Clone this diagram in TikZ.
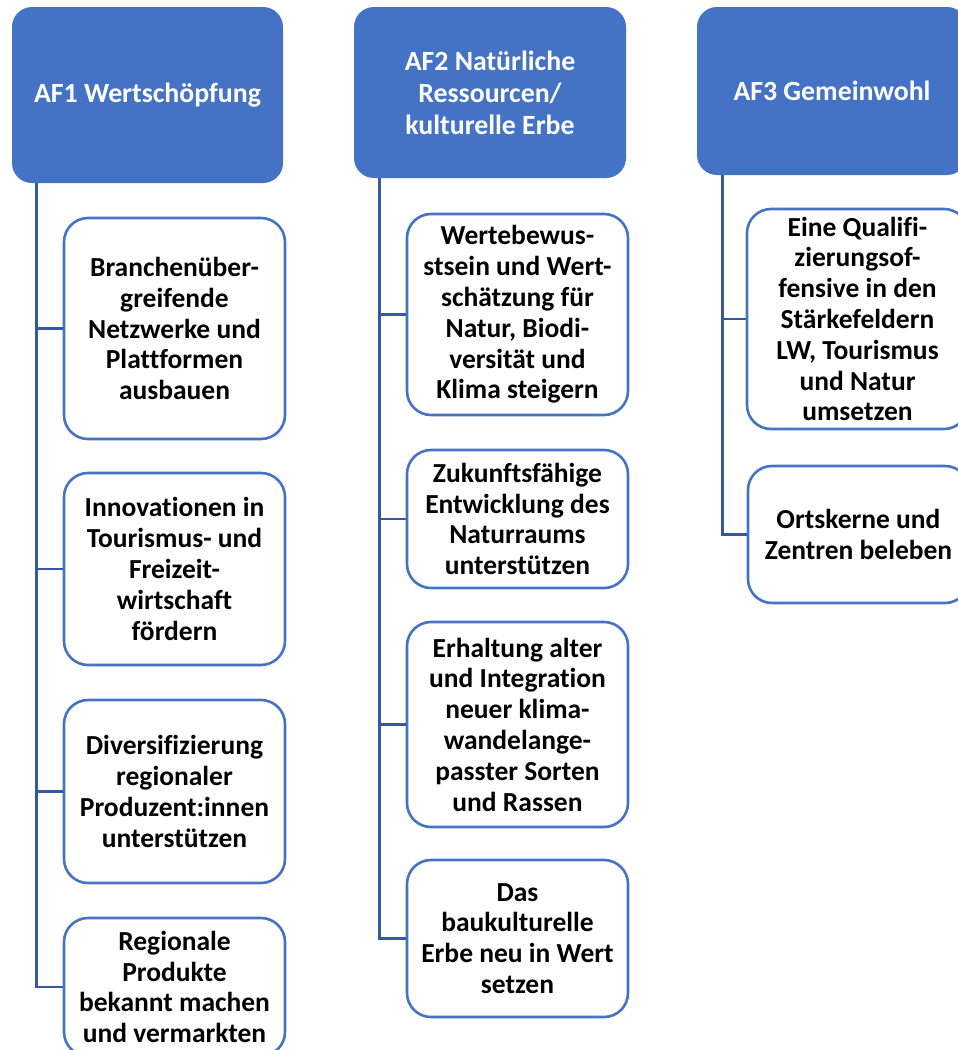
\documentclass[tikz,border=0pt]{standalone}
\usepackage{fontspec}
\setmainfont{Carlito}[Ligatures=NoCommon]
\definecolor{hdr}{HTML}{4472C4}
\definecolor{conn}{HTML}{3458A4}
\begin{document}
\begin{tikzpicture}[x=1pt,y=-1pt,
  hdrbox/.style={rectangle, rounded corners=20pt, fill=hdr, draw=none, text=white,
    font=\fontsize{27.8}{32}\selectfont\bfseries, align=center, inner sep=0pt},
  kidbox/.style={rectangle, rounded corners=24pt, draw=hdr, line width=2.6pt, fill=white,
    font=\fontsize{27.5}{30.8}\selectfont\bfseries, align=center, inner sep=0pt,
    minimum width=221pt},
  link/.style={draw=conn, line width=2.8pt}]
\useasboundingbox (0,0) rectangle (958,1050);
\clip (0,0) rectangle (958,1050);

% headers
\node[hdrbox, minimum width=271pt, minimum height=176pt] (h1) at (147.5,95) {AF1 Wertschöpfung};
\node[hdrbox, minimum width=272pt, minimum height=171pt] (h2) at (490,92.5) {AF2 Natürliche\\Ressourcen/\\kulturelle Erbe};
\node[hdrbox, minimum width=270pt, minimum height=168pt] (h3) at (832,91) {AF3 Gemeinwohl};

% AF1 children
\node[kidbox, minimum height=221pt] (a1) at (174.5,328.5) {Branchenüber-\\greifende\\Netzwerke und\\Plattformen\\ausbauen};
\node[kidbox, minimum height=192pt] (a2) at (174.5,569) {Innovationen in\\Tourismus- und\\Freizeit-\\wirtschaft\\fördern};
\node[kidbox, minimum height=183pt] (a3) at (174.5,791.5) {Diversifizierung\\regionaler\\Produzent:innen\\unterstützen};
\node[kidbox, minimum height=138pt] (a4) at (174.5,987) {Regionale\\Produkte\\bekannt machen\\und vermarkten};

% AF2 children
\node[kidbox, minimum height=201pt] (b1) at (517.5,314.5) {Wertebewus-\\stsein und Wert-\\schätzung für\\Natur, Biodi-\\versität und\\Klima steigern};
\node[kidbox, minimum height=138pt] (b2) at (517.5,519) {Zukunftsfähige\\Entwicklung des\\Naturraums\\unterstützen};
\node[kidbox, minimum height=205pt] (b3) at (517.5,724.5) {Erhaltung alter\\und Integration\\neuer klima-\\wandelange-\\passter Sorten\\und Rassen};
\node[kidbox, minimum height=157pt] (b4) at (517.5,938.5) {Das\\baukulturelle\\Erbe neu in Wert\\setzen};

% AF3 children
\node[kidbox, minimum height=220pt] (c1) at (857.5,319) {Eine Qualifi-\\zierungsof-\\fensive in den\\Stärkefeldern\\LW, Tourismus\\und Natur\\umsetzen};
\node[kidbox, minimum height=137pt] (c2) at (858.5,534.5) {Ortskerne und\\Zentren beleben};

% trunk coordinates
\coordinate (t1) at ([xshift=25pt]h1.south west);
\coordinate (t2) at ([xshift=26pt]h2.south west);
\coordinate (t3) at ([xshift=26pt]h3.south west);

% connectors
\draw[link] (t1) |- (a4.west);
\foreach \k in {a1,a2,a3} \draw[link] (\k.west) -- (\k.west -| t1);
\draw[link] (t2) |- (b4.west);
\foreach \k in {b1,b2,b3} \draw[link] (\k.west) -- (\k.west -| t2);
\draw[link] (t3) |- (c2.west);
\draw[link] (c1.west) -- (c1.west -| t3);
\end{tikzpicture}
\end{document}
